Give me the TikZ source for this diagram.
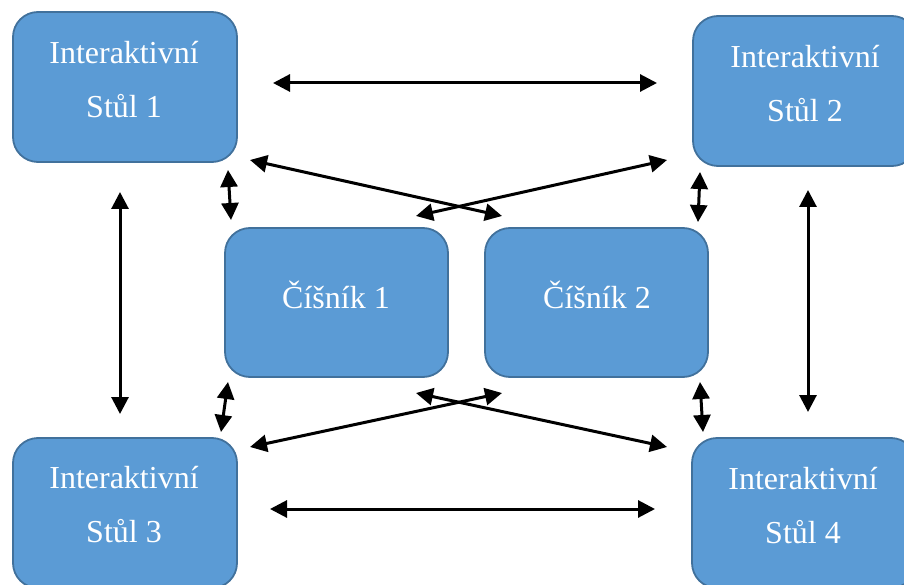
\documentclass[tikz,border=0pt]{standalone}
\usepackage{fontspec}
\setmainfont{Liberation Serif}
\usetikzlibrary{arrows.meta}
\definecolor{boxfill}{HTML}{5B9BD5}
\definecolor{boxline}{HTML}{41719C}
\tikzset{
  panel/.style={draw=boxline, fill=boxfill, line width=1.8pt,
    rounded corners=25pt, minimum width=#1, minimum height=150pt,
    inner sep=0pt},
  panel/.default=224pt,
  label2/.style={text=white, align=center, inner sep=0pt,
    font=\fontsize{32}{54}\selectfont},
  label1/.style={text=white, inner sep=0pt, anchor=base,
    font=\fontsize{32}{37}\selectfont},
  link/.style={line width=3pt,
    {Triangle[length=17pt,width=17pt]}-{Triangle[length=17pt,width=17pt]}}
}
\begin{document}
\begin{tikzpicture}[x=1pt, y=-1pt]
\useasboundingbox (0,0) rectangle (904,585);
\begin{scope}
\clip (0,0) rectangle (904,585);
% tables and waiters
\node[panel] (s1) at (125,87) {};
\node[panel] (s2) at (805,91) {};
\node[panel] (s3) at (125,513) {};
\node[panel] (s4) at (804,513) {};
\node[panel, minimum height=149pt, minimum width=223pt] (w1) at (336.5,302.5) {};
\node[panel, minimum height=149pt, minimum width=223pt] (w2) at (596.5,302.5) {};
\end{scope}
% captions
\node[label2] (l1) at (124,80) {Interaktivní\\Stůl 1};
\node[label2] (l2) at (805,84) {Interaktivní\\Stůl 2};
\node[label2] (l3) at (124,505) {Interaktivní\\Stůl 3};
\node[label2] (l4) at (803,505.5) {Interaktivní\\Stůl 4};
\node[label1] (c1) at (336,308) {Číšník 1};
\node[label1] (c2) at (597,308) {Číšník 2};
% arrow end points
\coordinate (h1a) at (273,83);  \coordinate (h1b) at (657,83);
\coordinate (h2a) at (270,509); \coordinate (h2b) at (655,509);
\coordinate (v1a) at (120,192); \coordinate (v1b) at (120,414);
\coordinate (v2a) at (808,190); \coordinate (v2b) at (808,412);
\coordinate (ka) at (228,170);  \coordinate (kb) at (231,220);
\coordinate (ma) at (700,172);  \coordinate (mb) at (698,222);
\coordinate (na) at (228,382);  \coordinate (nb) at (221,432);
\coordinate (pa) at (700,382);  \coordinate (pb) at (703,432);
\coordinate (xa) at (250,160);  \coordinate (xb) at (502,216);
\coordinate (ya) at (416,216);  \coordinate (yb) at (667,160);
\coordinate (za) at (416,393);  \coordinate (zb) at (667,447);
\coordinate (qa) at (250,447);  \coordinate (qb) at (502,393);
% connections
\draw[link] (h1a) -- (h1b);
\draw[link] (h2a) -- (h2b);
\draw[link] (v1a) -- (v1b);
\draw[link] (v2a) -- (v2b);
\draw[link] (ka) -- (kb);
\draw[link] (ma) -- (mb);
\draw[link] (na) -- (nb);
\draw[link] (pa) -- (pb);
\draw[link] (xa) -- (xb);
\draw[link] (ya) -- (yb);
\draw[link] (za) -- (zb);
\draw[link] (qa) -- (qb);
\end{tikzpicture}
\end{document}
